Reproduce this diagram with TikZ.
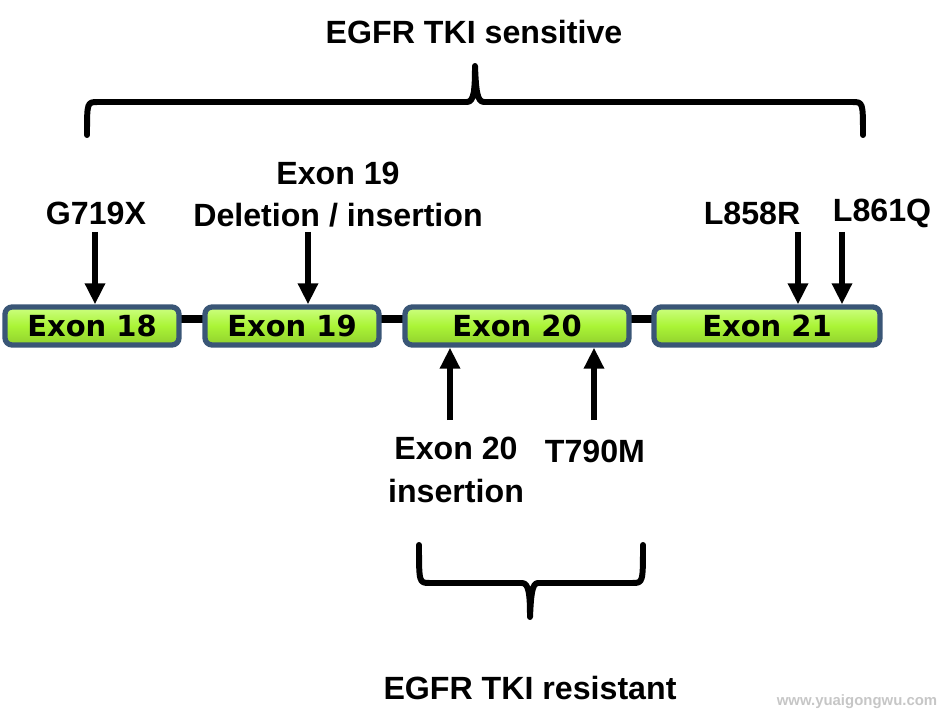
\documentclass[tikz,border=0pt]{standalone}
\usepackage{fontspec}
\setmainfont{Liberation Sans}
\newfontfamily\boxfont{DejaVu Sans}
\usepackage{tikz}
\usetikzlibrary{arrows.meta}

\definecolor{exongreen}{RGB}{170,244,54}
\definecolor{exonlight}{RGB}{205,255,130}
\definecolor{exonedge}{RGB}{58,86,118}

\begin{document}
\begin{tikzpicture}[x=0.02cm, y=-0.02cm,
  exon/.style={draw=exonedge, line width=3pt, rounded corners=4pt,
    top color=exonlight, bottom color=exongreen!85!black, middle color=exongreen,
    minimum height=0.76cm, inner sep=0pt, font=\boxfont\bfseries\fontsize{16.5}{18}\selectfont},
  lbl/.style={font=\bfseries\fontsize{18.3}{22}\selectfont, align=center, inner sep=0pt},
  arr/.style={line width=3.4pt, -{Triangle[width=11pt, length=12pt]}},
  brace/.style={line width=3.4pt, line cap=round, line join=round}]
\useasboundingbox (0,0) rectangle (951,713);

% backbone
\coordinate (b1) at (181,319);
\coordinate (b2) at (652,319);
\draw[line width=4pt] (b1) -- (b2);

\node[exon, minimum width=3.48cm] (e18) at (92,326) {Exon 18};
\node[exon, minimum width=3.48cm] (e19) at (292,326) {Exon 19};
\node[exon, minimum width=4.48cm] (e20) at (517,326) {Exon 20};
\node[exon, minimum width=4.52cm] (e21) at (767,326) {Exon 21};

% upper labels
\node[lbl] (sens) at (474,32) {EGFR TKI sensitive};
\node[lbl] (g719x) at (96,213) {G719X};
\node[lbl] (del19) at (338,195) {Exon 19\\[2pt]Deletion / insertion};
\node[lbl] (l858r) at (752,213) {L858R};
\node[lbl] (l861q) at (882,213) {L861Q};

\coordinate (a1) at (95,232);
\coordinate (a2) at (308,232);
\coordinate (a3) at (798,232);
\coordinate (a4) at (842,232);
\draw[arr] (a1) -- (a1 |- e18.north);
\draw[arr] (a2) -- (a2 |- e19.north);
\draw[arr] (a3) -- (a3 |- e21.north);
\draw[arr] (a4) -- (a4 |- e21.north);

% lower labels
\node[lbl] (ins20) at (456,470) {Exon 20\\[2pt]insertion};
\node[lbl] (t790m) at (595,451) {T790M};
\node[lbl] (res) at (530,688) {EGFR TKI resistant};

\coordinate (u1) at (450,420);
\coordinate (u2) at (594,420);
\draw[arr] (u1) -- (u1 |- e20.south);
\draw[arr] (u2) -- (u2 |- e20.south);

% braces
\coordinate (tb) at (475,66);
\draw[brace] (87,135) .. controls (87,102) .. (98,102) -- (467,102)
  .. controls (474,102) and (475,90) .. (tb)
  .. controls (476,90) and (477,102) .. (484,102) -- (852,102)
  .. controls (863,102) .. (863,135);
\coordinate (bb) at (530,617);
\draw[brace] (419,545) .. controls (419,583) .. (430,583) -- (522,583)
  .. controls (529,583) and (530,595) .. (bb)
  .. controls (531,595) and (532,583) .. (538,583) -- (632,583)
  .. controls (643,583) .. (643,545);

\node[text=gray!45, font=\bfseries\fontsize{8.5}{9}\selectfont] (wm) at (857,702) {www.yuaigongwu.com};
\end{tikzpicture}
\end{document}
